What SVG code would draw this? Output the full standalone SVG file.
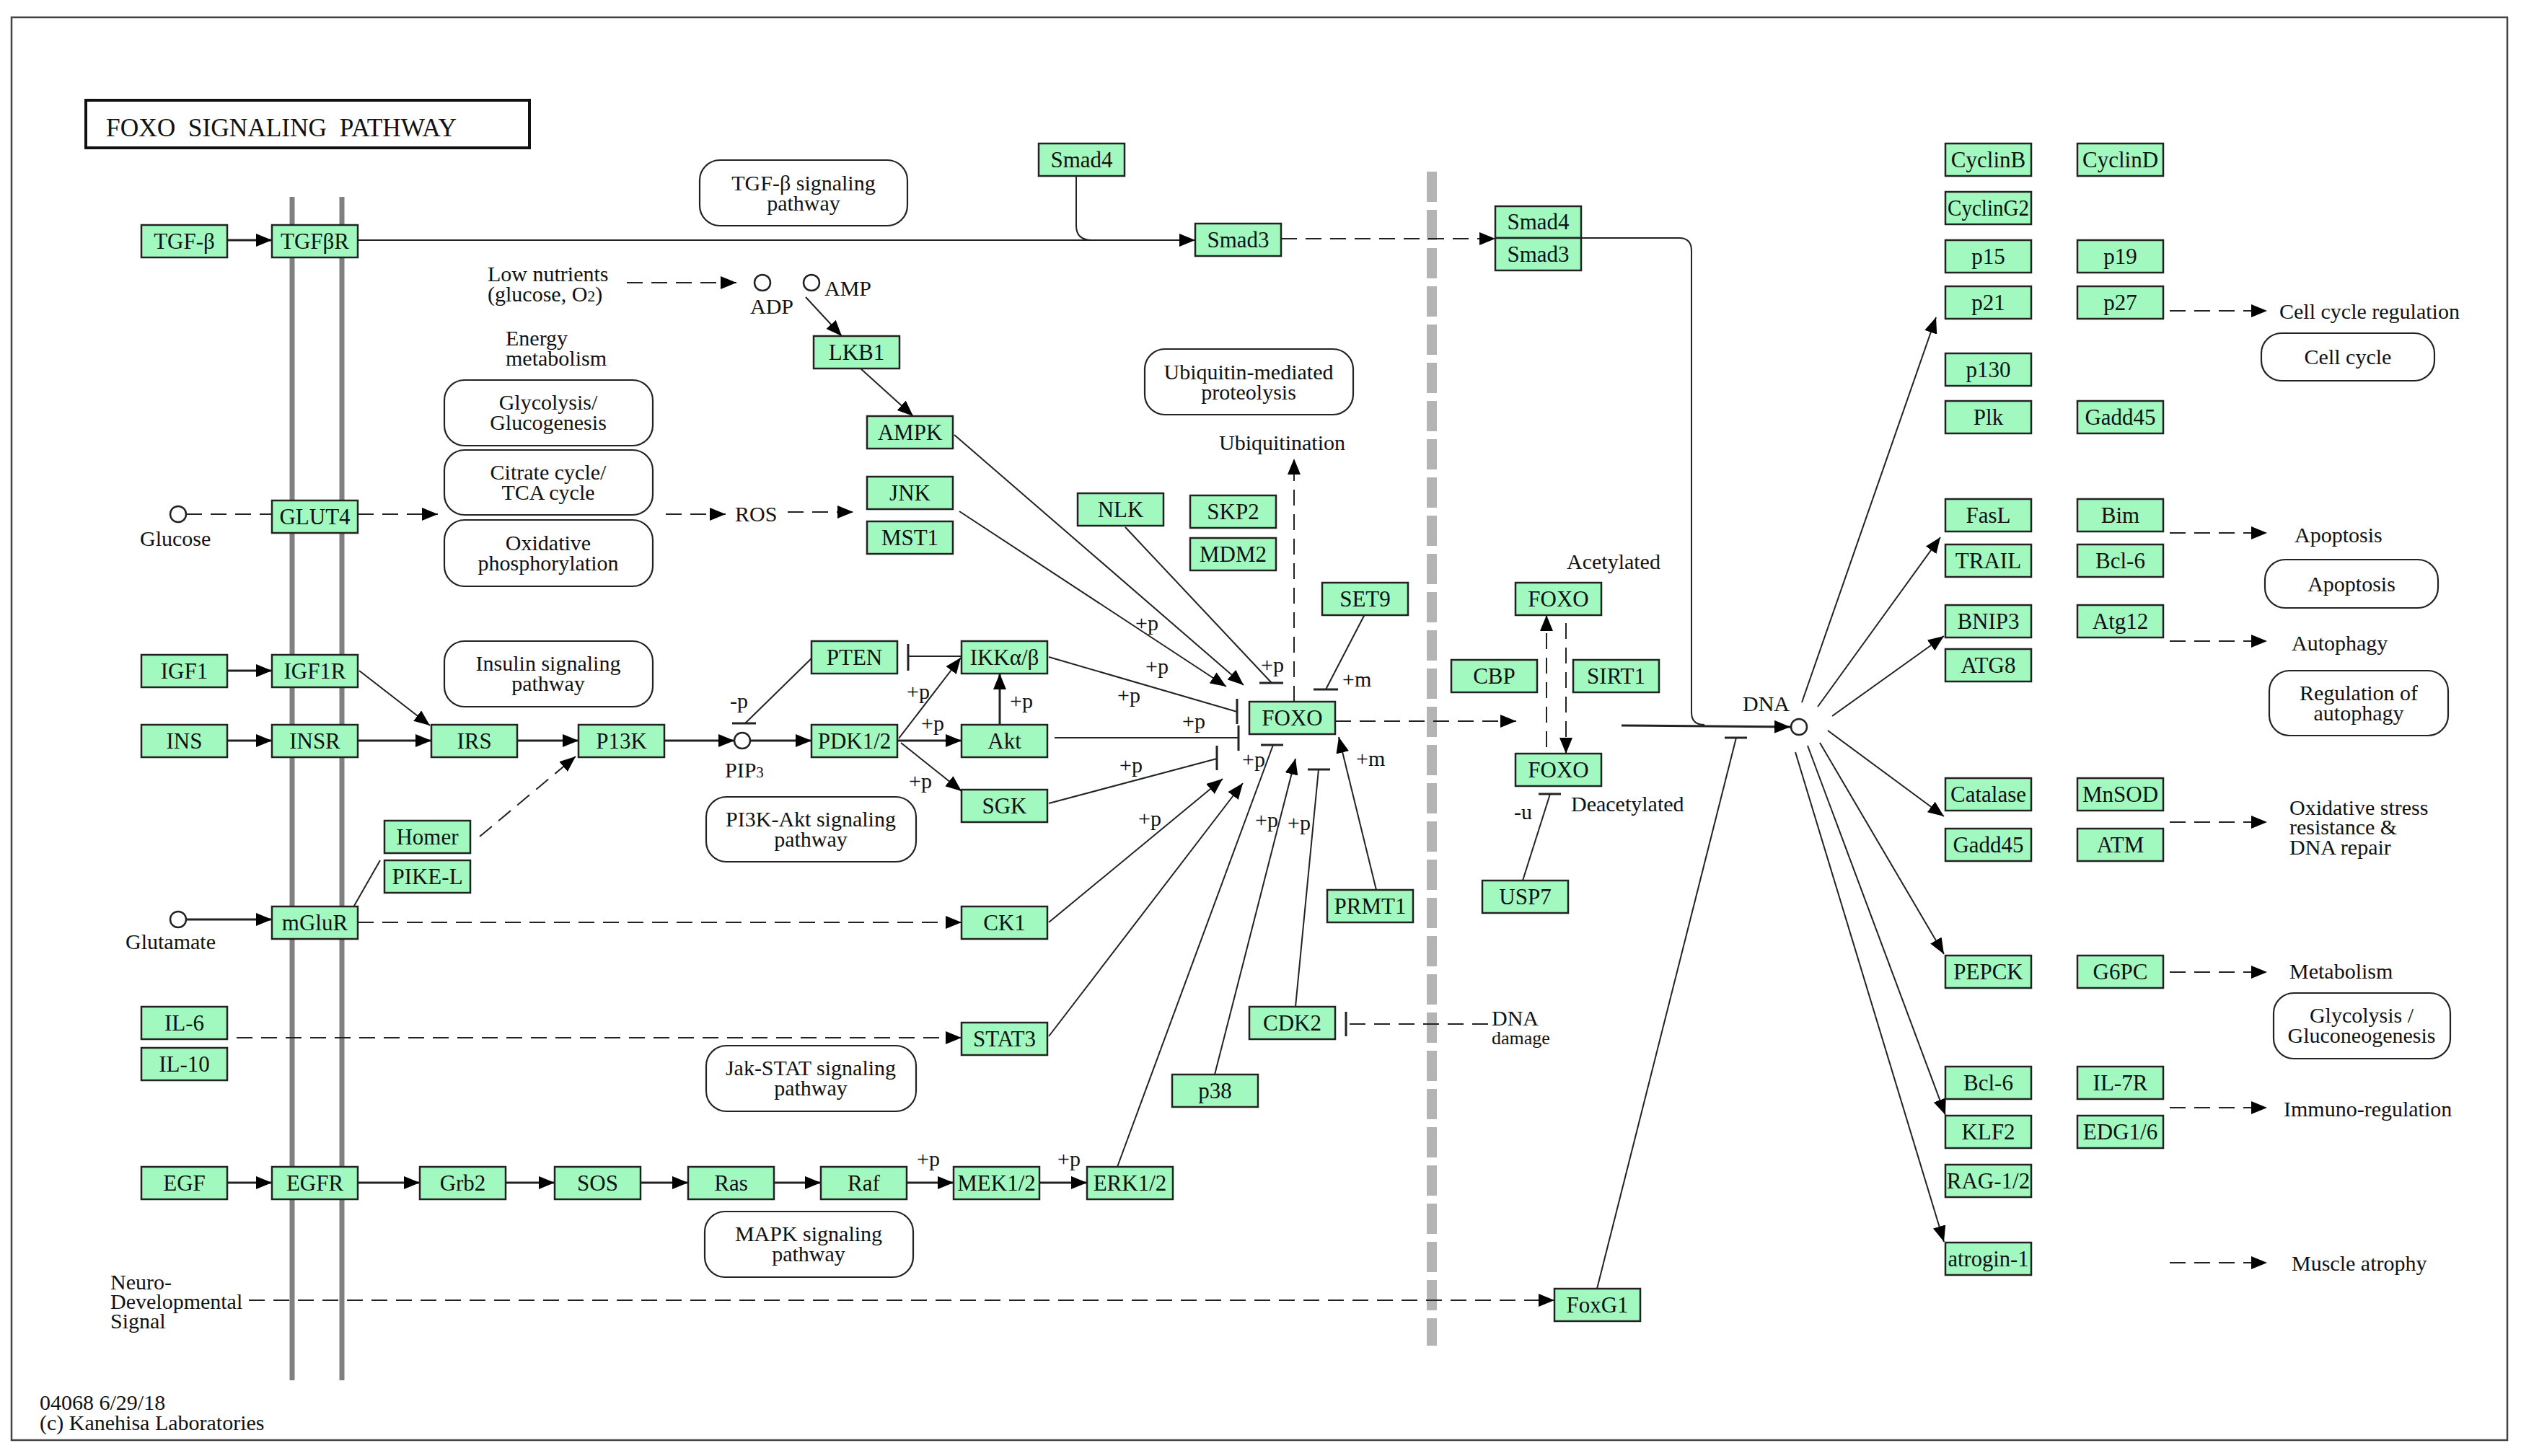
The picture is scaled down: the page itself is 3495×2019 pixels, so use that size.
<svg xmlns="http://www.w3.org/2000/svg" width="3495" height="2019" viewBox="0 0 3495 2019">
<style>
.n rect{fill:#a2f9c0;stroke:#222;stroke-width:2.5}
.n text{font-family:"Liberation Serif",serif;font-size:31px;text-anchor:middle;fill:#111}
.pw rect{fill:#fff;stroke:#222;stroke-width:2.2}
.pw text{font-family:"Liberation Serif",serif;font-size:30px;text-anchor:middle;fill:#111}
.t{font-family:"Liberation Serif",serif;font-size:30px;fill:#111}
.c line,.c path{stroke:#222;stroke-width:2;fill:none}
.c .k{stroke-width:3}
.c .d{stroke-dasharray:22 12}
.c circle{fill:#fff;stroke:#222;stroke-width:2.5}
.mem{stroke:#808080;stroke-width:7}
</style>
<defs>
<marker id="ah" markerUnits="userSpaceOnUse" markerWidth="24" markerHeight="18" refX="22" refY="9" orient="auto"><path d="M0,0 L22,9 L0,18 z" fill="#000"/></marker>
</defs>
<rect width="3495" height="2019" fill="#fff"/>
<rect x="16" y="24" width="3460" height="1973" fill="none" stroke="#444" stroke-width="2.5"/>
<g id="title"><rect x="119" y="139" width="615" height="66" fill="#fff" stroke="#111" stroke-width="4"/><text class="t" x="147" y="189" xml:space="preserve" style="font-size:35px" textLength="486" lengthAdjust="spacingAndGlyphs">FOXO  SIGNALING  PATHWAY</text></g>
<g id="membrane"><line class="mem" x1="405" y1="273" x2="405" y2="1914"/><line class="mem" x1="474" y1="273" x2="474" y2="1914"/><line x1="1985" y1="238" x2="1985" y2="1866" stroke="#b4b4b4" stroke-width="14" stroke-dasharray="42 11"/></g>
<g id="pathways" class="pw">
<rect x="616" y="527" width="289" height="91" rx="28"/><text x="760" y="568">Glycolysis/</text><text x="760" y="596">Glucogenesis</text>
<rect x="616" y="624" width="289" height="90" rx="28"/><text x="760" y="665">Citrate cycle/</text><text x="760" y="693">TCA cycle</text>
<rect x="616" y="721" width="289" height="92" rx="28"/><text x="760" y="763">Oxidative</text><text x="760" y="791">phosphorylation</text>
<rect x="616" y="889" width="289" height="91" rx="28"/><text x="760" y="930">Insulin signaling</text><text x="760" y="958">pathway</text>
<rect x="970" y="222" width="288" height="91" rx="28"/><text x="1114" y="264">TGF-β signaling</text><text x="1114" y="292">pathway</text>
<rect x="1587" y="484" width="289" height="91" rx="28"/><text x="1731" y="526">Ubiquitin-mediated</text><text x="1731" y="554">proteolysis</text>
<rect x="979" y="1105" width="291" height="90" rx="28"/><text x="1124" y="1146">PI3K-Akt signaling</text><text x="1124" y="1174">pathway</text>
<rect x="979" y="1450" width="291" height="91" rx="28"/><text x="1124" y="1491">Jak-STAT signaling</text><text x="1124" y="1519">pathway</text>
<rect x="977" y="1680" width="289" height="91" rx="28"/><text x="1121" y="1721">MAPK signaling</text><text x="1121" y="1749">pathway</text>
<rect x="3135" y="462" width="240" height="66" rx="28"/><text x="3255" y="505">Cell cycle</text>
<rect x="3140" y="776" width="240" height="67" rx="28"/><text x="3260" y="820">Apoptosis</text>
<rect x="3146" y="930" width="248" height="90" rx="28"/><text x="3270" y="971">Regulation of</text><text x="3270" y="999">autophagy</text>
<rect x="3152" y="1377" width="245" height="91" rx="28"/><text x="3274" y="1418">Glycolysis /</text><text x="3274" y="1446">Gluconeogenesis</text>
</g>
<g id="connectors" class="c">
<line class="k" x1="314" y1="333" x2="377" y2="333" marker-end="url(#ah)"/>
<line x1="496" y1="333" x2="1657" y2="333" marker-end="url(#ah)"/>
<path d="M1492,244 V313 Q1492,333 1514,333"/>
<line class="d" x1="1776" y1="331" x2="2073" y2="331" marker-end="url(#ah)"/>
<path d="M2192,330 H2328 Q2345,330 2345,348 V988 Q2345,1005 2363,1005"/>
<line class="d" x1="869" y1="392" x2="1021" y2="392" marker-end="url(#ah)"/>
<circle cx="1057" cy="392" r="11"/><circle cx="1125" cy="392" r="11"/>
<line x1="1117" y1="412" x2="1167" y2="466" marker-end="url(#ah)"/>
<line x1="1193" y1="511" x2="1266" y2="577" marker-end="url(#ah)"/>
<circle cx="247" cy="713" r="11"/>
<line class="d" x1="258" y1="713" x2="377" y2="713"/>
<line class="d" x1="496" y1="713" x2="607" y2="713" marker-end="url(#ah)"/>
<line class="d" x1="923" y1="713" x2="1006" y2="713" marker-end="url(#ah)"/>
<line class="d" x1="1092" y1="710" x2="1183" y2="710" marker-end="url(#ah)"/>
<line class="k" x1="314" y1="930" x2="377" y2="930" marker-end="url(#ah)"/>
<line class="k" x1="314" y1="1027" x2="377" y2="1027" marker-end="url(#ah)"/>
<line class="k" x1="496" y1="1027" x2="598" y2="1027" marker-end="url(#ah)"/>
<line x1="498" y1="930" x2="596" y2="1006" marker-end="url(#ah)"/>
<line class="k" x1="717" y1="1027" x2="802" y2="1027" marker-end="url(#ah)"/>
<line class="k" x1="921" y1="1027" x2="1018" y2="1027" marker-end="url(#ah)"/>
<circle cx="1029" cy="1027" r="11"/>
<line class="k" x1="1040" y1="1027" x2="1125" y2="1027" marker-end="url(#ah)"/>
<line x1="1125" y1="913" x2="1033" y2="1003"/><line class="k" x1="1015" y1="1003" x2="1048" y2="1003"/>
<line x1="1333" y1="910" x2="1259" y2="910"/><line class="k" x1="1259" y1="893" x2="1259" y2="930"/>
<line x1="1246" y1="1024" x2="1332" y2="912" marker-end="url(#ah)"/>
<line class="k" x1="1244" y1="1027" x2="1333" y2="1027" marker-end="url(#ah)"/>
<line x1="1249" y1="1030" x2="1333" y2="1097" marker-end="url(#ah)"/>
<line class="k" x1="1386" y1="1005" x2="1386" y2="934" marker-end="url(#ah)"/>
<line class="d" x1="665" y1="1160" x2="798" y2="1049" marker-end="url(#ah)"/>
<line x1="491" y1="1256" x2="527" y2="1193"/>
<circle cx="247" cy="1275" r="11"/>
<line class="k" x1="258" y1="1275" x2="377" y2="1275" marker-end="url(#ah)"/>
<line class="d" x1="496" y1="1279" x2="1333" y2="1279" marker-end="url(#ah)"/>
<line class="d" x1="328" y1="1439" x2="1333" y2="1439" marker-end="url(#ah)"/>
<line class="k" x1="314" y1="1640" x2="377" y2="1640" marker-end="url(#ah)"/>
<line class="k" x1="496" y1="1640" x2="582" y2="1640" marker-end="url(#ah)"/>
<line class="k" x1="701" y1="1640" x2="769" y2="1640" marker-end="url(#ah)"/>
<line class="k" x1="888" y1="1640" x2="954" y2="1640" marker-end="url(#ah)"/>
<line class="k" x1="1073" y1="1640" x2="1138" y2="1640" marker-end="url(#ah)"/>
<line class="k" x1="1257" y1="1640" x2="1322" y2="1640" marker-end="url(#ah)"/>
<line class="k" x1="1441" y1="1640" x2="1507" y2="1640" marker-end="url(#ah)"/>
<line class="d" x1="345" y1="1803" x2="2155" y2="1803" marker-end="url(#ah)"/>
<line x1="1323" y1="603" x2="1724" y2="950" marker-end="url(#ah)"/>
<line x1="1330" y1="709" x2="1700" y2="952" marker-end="url(#ah)"/>
<line x1="1560" y1="731" x2="1763" y2="947"/><line class="k" x1="1746" y1="947" x2="1779" y2="947"/>
<line x1="1892" y1="852" x2="1838" y2="956"/><line class="k" x1="1821" y1="956" x2="1855" y2="956"/>
<line x1="1454" y1="911" x2="1715" y2="987"/><line class="k" x1="1715" y1="969" x2="1715" y2="1004"/>
<line x1="1462" y1="1023" x2="1717" y2="1023"/><line class="k" x1="1717" y1="1006" x2="1717" y2="1041"/>
<line x1="1454" y1="1114" x2="1687" y2="1052"/><line class="k" x1="1687" y1="1034" x2="1687" y2="1068"/>
<line x1="1454" y1="1279" x2="1695" y2="1080" marker-end="url(#ah)"/>
<line x1="1454" y1="1437" x2="1723" y2="1086" marker-end="url(#ah)"/>
<line x1="1549" y1="1618" x2="1765" y2="1033"/><line class="k" x1="1748" y1="1033" x2="1779" y2="1033"/>
<line x1="1684" y1="1490" x2="1796" y2="1052" marker-end="url(#ah)"/>
<line x1="1796" y1="1396" x2="1828" y2="1067"/><line class="k" x1="1813" y1="1067" x2="1844" y2="1067"/>
<line x1="1908" y1="1234" x2="1856" y2="1022" marker-end="url(#ah)"/>
<line class="d" x1="1794" y1="973" x2="1794" y2="636" marker-end="url(#ah)"/>
<line class="d" x1="1851" y1="1000" x2="2102" y2="1000" marker-end="url(#ah)"/>
<line class="d" x1="2144" y1="1036" x2="2144" y2="853" marker-end="url(#ah)"/>
<line class="d" x1="2171" y1="864" x2="2171" y2="1045" marker-end="url(#ah)"/>
<line x1="2111" y1="1221" x2="2149" y2="1101"/><line class="k" x1="2133" y1="1101" x2="2164" y2="1101"/>
<line class="d" x1="2063" y1="1420" x2="1866" y2="1420"/><line class="k" x1="1866" y1="1403" x2="1866" y2="1437"/>
<line class="k" x1="2248" y1="1006" x2="2482" y2="1008" marker-end="url(#ah)"/>
<circle cx="2494" cy="1008" r="11"/>
<line x1="2214" y1="1787" x2="2407" y2="1023"/><line class="k" x1="2391" y1="1023" x2="2422" y2="1023"/>
<line x1="2498" y1="974" x2="2684" y2="440" marker-end="url(#ah)"/>
<line x1="2520" y1="980" x2="2690" y2="745" marker-end="url(#ah)"/>
<line x1="2540" y1="993" x2="2695" y2="882" marker-end="url(#ah)"/>
<line x1="2534" y1="1013" x2="2695" y2="1132" marker-end="url(#ah)"/>
<line x1="2523" y1="1030" x2="2695" y2="1323" marker-end="url(#ah)"/>
<line x1="2506" y1="1034" x2="2697" y2="1546" marker-end="url(#ah)"/>
<line x1="2489" y1="1043" x2="2695" y2="1722" marker-end="url(#ah)"/>
<line class="d" x1="3008" y1="431" x2="3143" y2="431" marker-end="url(#ah)"/>
<line class="d" x1="3008" y1="739" x2="3143" y2="739" marker-end="url(#ah)"/>
<line class="d" x1="3008" y1="889" x2="3143" y2="889" marker-end="url(#ah)"/>
<line class="d" x1="3008" y1="1140" x2="3143" y2="1140" marker-end="url(#ah)"/>
<line class="d" x1="3008" y1="1348" x2="3143" y2="1348" marker-end="url(#ah)"/>
<line class="d" x1="3008" y1="1536" x2="3143" y2="1536" marker-end="url(#ah)"/>
<line class="d" x1="3008" y1="1751" x2="3143" y2="1751" marker-end="url(#ah)"/>
</g>
<g id="nodes">
<g id="n-tgfb" class="n"><rect x="196" y="312" width="119" height="45"/><text x="255.5" y="345">TGF-β</text></g>
<g id="n-tgfbr" class="n"><rect x="377" y="312" width="119" height="45"/><text x="436.5" y="345">TGFβR</text></g>
<g id="n-glut4" class="n"><rect x="377" y="694" width="119" height="45"/><text x="436.5" y="727">GLUT4</text></g>
<g id="n-igf1" class="n"><rect x="196" y="908" width="119" height="45"/><text x="255.5" y="941">IGF1</text></g>
<g id="n-igf1r" class="n"><rect x="377" y="908" width="119" height="45"/><text x="436.5" y="941">IGF1R</text></g>
<g id="n-ins" class="n"><rect x="196" y="1005" width="119" height="45"/><text x="255.5" y="1038">INS</text></g>
<g id="n-insr" class="n"><rect x="377" y="1005" width="119" height="45"/><text x="436.5" y="1038">INSR</text></g>
<g id="n-irs" class="n"><rect x="598" y="1005" width="119" height="45"/><text x="657.5" y="1038">IRS</text></g>
<g id="n-p13k" class="n"><rect x="802" y="1005" width="119" height="45"/><text x="861.5" y="1038">P13K</text></g>
<g id="n-homer" class="n"><rect x="533" y="1138" width="119" height="45"/><text x="592.5" y="1171">Homer</text></g>
<g id="n-pikel" class="n"><rect x="533" y="1193" width="119" height="45"/><text x="592.5" y="1226">PIKE-L</text></g>
<g id="n-mglur" class="n"><rect x="377" y="1257" width="119" height="45"/><text x="436.5" y="1290">mGluR</text></g>
<g id="n-il6" class="n"><rect x="196" y="1396" width="119" height="45"/><text x="255.5" y="1429">IL-6</text></g>
<g id="n-il10" class="n"><rect x="196" y="1453" width="119" height="45"/><text x="255.5" y="1486">IL-10</text></g>
<g id="n-egf" class="n"><rect x="196" y="1618" width="119" height="45"/><text x="255.5" y="1651">EGF</text></g>
<g id="n-egfr" class="n"><rect x="377" y="1618" width="119" height="45"/><text x="436.5" y="1651">EGFR</text></g>
<g id="n-grb2" class="n"><rect x="582" y="1618" width="119" height="45"/><text x="641.5" y="1651">Grb2</text></g>
<g id="n-sos" class="n"><rect x="769" y="1618" width="119" height="45"/><text x="828.5" y="1651">SOS</text></g>
<g id="n-ras" class="n"><rect x="954" y="1618" width="119" height="45"/><text x="1013.5" y="1651">Ras</text></g>
<g id="n-raf" class="n"><rect x="1138" y="1618" width="119" height="45"/><text x="1197.5" y="1651">Raf</text></g>
<g id="n-mek" class="n"><rect x="1322" y="1618" width="119" height="45"/><text x="1381.5" y="1651">MEK1/2</text></g>
<g id="n-erk" class="n"><rect x="1507" y="1618" width="119" height="45"/><text x="1566.5" y="1651">ERK1/2</text></g>
<g id="n-pten" class="n"><rect x="1125" y="889" width="119" height="45"/><text x="1184.5" y="922">PTEN</text></g>
<g id="n-ikk" class="n"><rect x="1333" y="889" width="119" height="45"/><text x="1392.5" y="922">IKKα/β</text></g>
<g id="n-pdk" class="n"><rect x="1125" y="1005" width="119" height="45"/><text x="1184.5" y="1038">PDK1/2</text></g>
<g id="n-akt" class="n"><rect x="1333" y="1005" width="119" height="45"/><text x="1392.5" y="1038">Akt</text></g>
<g id="n-sgk" class="n"><rect x="1333" y="1095" width="119" height="45"/><text x="1392.5" y="1128">SGK</text></g>
<g id="n-ck1" class="n"><rect x="1333" y="1257" width="119" height="45"/><text x="1392.5" y="1290">CK1</text></g>
<g id="n-stat3" class="n"><rect x="1333" y="1418" width="119" height="45"/><text x="1392.5" y="1451">STAT3</text></g>
<g id="n-lkb1" class="n"><rect x="1128" y="466" width="119" height="45"/><text x="1187.5" y="499">LKB1</text></g>
<g id="n-ampk" class="n"><rect x="1202" y="577" width="119" height="45"/><text x="1261.5" y="610">AMPK</text></g>
<g id="n-jnk" class="n"><rect x="1202" y="661" width="119" height="45"/><text x="1261.5" y="694">JNK</text></g>
<g id="n-mst1" class="n"><rect x="1202" y="723" width="119" height="45"/><text x="1261.5" y="756">MST1</text></g>
<g id="n-nlk" class="n"><rect x="1494" y="684" width="119" height="45"/><text x="1553.5" y="717">NLK</text></g>
<g id="n-skp2" class="n"><rect x="1650" y="687" width="119" height="45"/><text x="1709.5" y="720">SKP2</text></g>
<g id="n-mdm2" class="n"><rect x="1650" y="746" width="119" height="45"/><text x="1709.5" y="779">MDM2</text></g>
<g id="n-smad4" class="n"><rect x="1440" y="199" width="119" height="45"/><text x="1499.5" y="232">Smad4</text></g>
<g id="n-smad3" class="n"><rect x="1657" y="310" width="119" height="45"/><text x="1716.5" y="343">Smad3</text></g>
<g id="n-set9" class="n"><rect x="1833" y="808" width="119" height="45"/><text x="1892.5" y="841">SET9</text></g>
<g id="n-foxo" class="n"><rect x="1732" y="973" width="119" height="45"/><text x="1791.5" y="1006">FOXO</text></g>
<g id="n-prmt1" class="n"><rect x="1840" y="1234" width="119" height="45"/><text x="1899.5" y="1267">PRMT1</text></g>
<g id="n-cdk2" class="n"><rect x="1732" y="1396" width="119" height="45"/><text x="1791.5" y="1429">CDK2</text></g>
<g id="n-p38" class="n"><rect x="1625" y="1490" width="119" height="45"/><text x="1684.5" y="1523">p38</text></g>
<g id="n-smad-complex" class="n"><rect x="2073" y="286" width="119" height="44"/><text x="2132.5" y="318">Smad4</text><rect x="2073" y="330" width="119" height="45"/><text x="2132.5" y="363">Smad3</text></g>
<g id="n-foxo-ac" class="n"><rect x="2101" y="808" width="119" height="45"/><text x="2160.5" y="841">FOXO</text></g>
<g id="n-cbp" class="n"><rect x="2012" y="915" width="119" height="45"/><text x="2071.5" y="948">CBP</text></g>
<g id="n-sirt1" class="n"><rect x="2181" y="915" width="119" height="45"/><text x="2240.5" y="948">SIRT1</text></g>
<g id="n-foxo-deac" class="n"><rect x="2101" y="1045" width="119" height="45"/><text x="2160.5" y="1078">FOXO</text></g>
<g id="n-usp7" class="n"><rect x="2055" y="1221" width="119" height="45"/><text x="2114.5" y="1254">USP7</text></g>
<g id="n-foxg1" class="n"><rect x="2155" y="1787" width="119" height="45"/><text x="2214.5" y="1820">FoxG1</text></g>
<g id="n-cyclinb" class="n"><rect x="2697" y="199" width="119" height="45"/><text x="2756.5" y="232">CyclinB</text></g>
<g id="n-cycling2" class="n"><rect x="2697" y="266" width="119" height="45"/><text x="2756.5" y="299" textLength="113" lengthAdjust="spacingAndGlyphs">CyclinG2</text></g>
<g id="n-p15" class="n"><rect x="2697" y="333" width="119" height="45"/><text x="2756.5" y="366">p15</text></g>
<g id="n-p21" class="n"><rect x="2697" y="397" width="119" height="45"/><text x="2756.5" y="430">p21</text></g>
<g id="n-p130" class="n"><rect x="2697" y="490" width="119" height="45"/><text x="2756.5" y="523">p130</text></g>
<g id="n-plk" class="n"><rect x="2697" y="556" width="119" height="45"/><text x="2756.5" y="589">Plk</text></g>
<g id="n-fasl" class="n"><rect x="2697" y="692" width="119" height="45"/><text x="2756.5" y="725">FasL</text></g>
<g id="n-trail" class="n"><rect x="2697" y="755" width="119" height="45"/><text x="2756.5" y="788">TRAIL</text></g>
<g id="n-bnip3" class="n"><rect x="2697" y="839" width="119" height="45"/><text x="2756.5" y="872">BNIP3</text></g>
<g id="n-atg8" class="n"><rect x="2697" y="900" width="119" height="45"/><text x="2756.5" y="933">ATG8</text></g>
<g id="n-catalase" class="n"><rect x="2697" y="1079" width="119" height="45"/><text x="2756.5" y="1112">Catalase</text></g>
<g id="n-gadd45a" class="n"><rect x="2697" y="1149" width="119" height="45"/><text x="2756.5" y="1182">Gadd45</text></g>
<g id="n-pepck" class="n"><rect x="2697" y="1325" width="119" height="45"/><text x="2756.5" y="1358">PEPCK</text></g>
<g id="n-bcl6a" class="n"><rect x="2697" y="1479" width="119" height="45"/><text x="2756.5" y="1512">Bcl-6</text></g>
<g id="n-klf2" class="n"><rect x="2697" y="1547" width="119" height="45"/><text x="2756.5" y="1580">KLF2</text></g>
<g id="n-rag12" class="n"><rect x="2697" y="1615" width="119" height="45"/><text x="2756.5" y="1648">RAG-1/2</text></g>
<g id="n-atrogin1" class="n"><rect x="2697" y="1723" width="119" height="45"/><text x="2756.5" y="1756" textLength="112" lengthAdjust="spacingAndGlyphs">atrogin-1</text></g>
<g id="n-cyclind" class="n"><rect x="2880" y="199" width="119" height="45"/><text x="2939.5" y="232">CyclinD</text></g>
<g id="n-p19" class="n"><rect x="2880" y="333" width="119" height="45"/><text x="2939.5" y="366">p19</text></g>
<g id="n-p27" class="n"><rect x="2880" y="397" width="119" height="45"/><text x="2939.5" y="430">p27</text></g>
<g id="n-gadd45b" class="n"><rect x="2880" y="556" width="119" height="45"/><text x="2939.5" y="589">Gadd45</text></g>
<g id="n-bim" class="n"><rect x="2880" y="692" width="119" height="45"/><text x="2939.5" y="725">Bim</text></g>
<g id="n-bcl6b" class="n"><rect x="2880" y="755" width="119" height="45"/><text x="2939.5" y="788">Bcl-6</text></g>
<g id="n-atg12" class="n"><rect x="2880" y="839" width="119" height="45"/><text x="2939.5" y="872">Atg12</text></g>
<g id="n-mnsod" class="n"><rect x="2880" y="1079" width="119" height="45"/><text x="2939.5" y="1112">MnSOD</text></g>
<g id="n-atm" class="n"><rect x="2880" y="1149" width="119" height="45"/><text x="2939.5" y="1182">ATM</text></g>
<g id="n-g6pc" class="n"><rect x="2880" y="1325" width="119" height="45"/><text x="2939.5" y="1358">G6PC</text></g>
<g id="n-il7r" class="n"><rect x="2880" y="1479" width="119" height="45"/><text x="2939.5" y="1512">IL-7R</text></g>
<g id="n-edg16" class="n"><rect x="2880" y="1547" width="119" height="45"/><text x="2939.5" y="1580">EDG1/6</text></g>
</g>
<g id="labels" class="t">
<text x="676" y="390">Low nutrients</text><text x="676" y="418">(glucose, O<tspan font-size="22">2</tspan>)</text>
<text x="701" y="479">Energy</text><text x="701" y="507">metabolism</text>
<text x="1040" y="435">ADP</text><text x="1143" y="410">AMP</text>
<text x="194" y="757">Glucose</text><text x="174" y="1316">Glutamate</text>
<text x="1019" y="723">ROS</text>
<text x="1005" y="1078">PIP<tspan font-size="21">3</tspan></text>
<text x="1012" y="982">-p</text>
<text x="1690" y="624">Ubiquitination</text>
<text x="2172" y="789">Acetylated</text><text x="2178" y="1125">Deacetylated</text>
<text x="2099" y="1136">-u</text>
<text x="2416" y="986">DNA</text>
<text x="2068" y="1422">DNA</text><text x="2068" y="1448" font-size="26">damage</text>
<text x="153" y="1788">Neuro-</text><text x="153" y="1815">Developmental</text><text x="153" y="1842">Signal</text>
<text x="55" y="1955">04068 6/29/18</text><text x="55" y="1983">(c) Kanehisa Laboratories</text>
<text x="3160" y="442">Cell cycle regulation</text>
<text x="3181" y="752">Apoptosis</text>
<text x="3177" y="902">Autophagy</text>
<text x="3174" y="1130">Oxidative stress</text><text x="3174" y="1157">resistance &amp;</text><text x="3174" y="1185">DNA repair</text>
<text x="3174" y="1357">Metabolism</text>
<text x="3166" y="1548">Immuno-regulation</text>
<text x="3177" y="1762">Muscle atrophy</text>
<text x="1257" y="969">+p</text><text x="1277" y="1013">+p</text><text x="1260" y="1093">+p</text>
<text x="1400" y="982">+p</text><text x="1549" y="974">+p</text><text x="1639" y="1010">+p</text>
<text x="1552" y="1071">+p</text><text x="1578" y="1145">+p</text>
<text x="1574" y="874">+p</text><text x="1588" y="934">+p</text>
<text x="1748" y="932">+p</text><text x="1722" y="1063">+p</text>
<text x="1740" y="1147">+p</text><text x="1785" y="1151">+p</text>
<text x="1271" y="1617">+p</text><text x="1466" y="1617">+p</text>
<text x="1861" y="952">+m</text><text x="1880" y="1062">+m</text>
</g>
</svg>
